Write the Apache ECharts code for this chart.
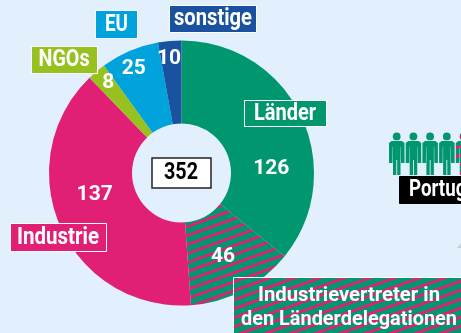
<!DOCTYPE html>
<html><head><meta charset="utf-8">
<style>html,body{margin:0;padding:0;background:#e1f0fc;overflow:hidden}#c{width:461px;height:333px}</style>
<script src="https://cdn.jsdelivr.net/npm/echarts@6/dist/echarts.min.js"></script>
</head><body><div id="c"></div>
<script>
var names=['Länder','Industrievertreter in den Länderdelegationen','Industrie','NGOs','EU','sonstige'];
var values=[126,46,137,8,25,10];
var colors=['#00976f','#00976f','#e01f75','#97c11f','#00a2dc','#1a52a0'];
var total='352';
var FONT='Roboto,"Liberation Sans",sans-serif';
var GREEN='#00976f',PINK='#e01f75';
function stripes(){
  var W=25,H=9,c=document.createElement('canvas');c.width=W;c.height=H;
  var g=c.getContext('2d');g.fillStyle=GREEN;g.fillRect(0,0,W,H);g.fillStyle=PINK;
  for(var k=-2;k<=1;k++){var y=k*H+H/2;g.beginPath();g.moveTo(0,y+H);g.lineTo(W,y);g.lineTo(W,y+3);g.lineTo(0,y+H+3);g.closePath();g.fill();}
  return {image:c,repeat:'repeat'};
}
var pat=stripes();
var offsets=[[5,36],[-2,0],[-1,-17],[-13,-18],[-11,-18],[-4,-21]];
var data=values.map(function(v,i){return {name:names[i],value:v,
  itemStyle:{color:i===1?pat:colors[i]},
  label:{offset:offsets[i]}};});
var mc=document.createElement('canvas').getContext('2d');
function txt(s,cx,cy,w,size,color){
  var font='bold '+size+'px '+FONT;mc.font=font;
  return {type:'text',z:22,x:cx,y:cy,scaleX:w/mc.measureText(s).width,
    style:{text:s,fill:color||'#fff',font:font,align:'center',verticalAlign:'middle'}};
}
function box(x,y,w,h,fill,stroke,lw){
  return {type:'rect',z:20,shape:{x:x,y:y,width:w,height:h},style:{fill:fill,stroke:stroke||'#fff',lineWidth:lw||1}};
}
var g=[];
[0,1,2,3,4].forEach(function(i){
  var x=389+i*16.7,y=132,f=i===4?pat:GREEN;
  g.push({type:'circle',z:10,shape:{cx:x+7.7,cy:y+4.4,r:3.9},style:{fill:f}});
  var pts=[[2.5,9],[13,9],[15.5,11],[15.5,31],[12,31],[11.8,15],[11.5,15],[11.5,43],[8.2,43],[8.2,28],[7.3,28],[7.3,43],[4,43],[4,15],[3.7,15],[3.5,31],[0,31],[0,11]];
  g.push({type:'polygon',z:10,shape:{points:pts.map(function(p){return [x+p[0],y+p[1]];})},style:{fill:f}});
});
g.push({type:'polygon',z:5,shape:{points:[[457,248],[461,243],[461,248]]},style:{fill:'#c6cfd6'}});
g.push(box(399.5,176.5,70,27,'#000','#000'));
g.push({type:'text',z:22,x:409,y:190,scaleX:0.78,style:{text:'Portug',fill:'#fff',font:'bold 24px '+FONT,align:'left',verticalAlign:'middle'}});
g.push(box(244.5,100.5,82,26,GREEN));g.push(txt('Länder',285,113.5,62,24));
g.push(box(95.5,10.5,42,28,'#00a2dc'));g.push(txt('EU',116.5,24.5,23,24));
g.push(box(169.5,5.5,87,27,'#1a52a0'));g.push(txt('sonstige',213,19,78,24));
g.push(box(31.5,46.5,66,27,'#97c11f'));g.push(txt('NGOs',64,60,51,24));
g.push(box(10.5,223.5,96,28,PINK));g.push(txt('Industrie',58,238,82,24));
g.push(box(233.5,277.5,240,60,pat));
g.push(txt('Industrievertreter in',349,296,182,21));
g.push(txt('den Länderdelegationen',349,320,216,21));
g.push(box(152,158,59,30,'#fff','#222',1.5));g.push(txt(total,181,173,34,24,'#000'));
var chart=echarts.init(document.getElementById('c'),null,{renderer:'canvas'});
chart.setOption({
  backgroundColor:'#e1f0fc',animation:false,
  series:[{type:'pie',center:[181.5,173],radius:[49.5,132.5],startAngle:90,clockwise:true,
    avoidLabelOverlap:false,minShowLabelAngle:0,
    data:data,
    itemStyle:{borderWidth:0},
    label:{show:true,position:'inside',formatter:'{c}',color:'#fff',fontFamily:FONT,fontWeight:'bold',fontSize:21},
    labelLine:{show:false},silent:true}],
  graphic:{elements:g}
});
</script></body></html>
